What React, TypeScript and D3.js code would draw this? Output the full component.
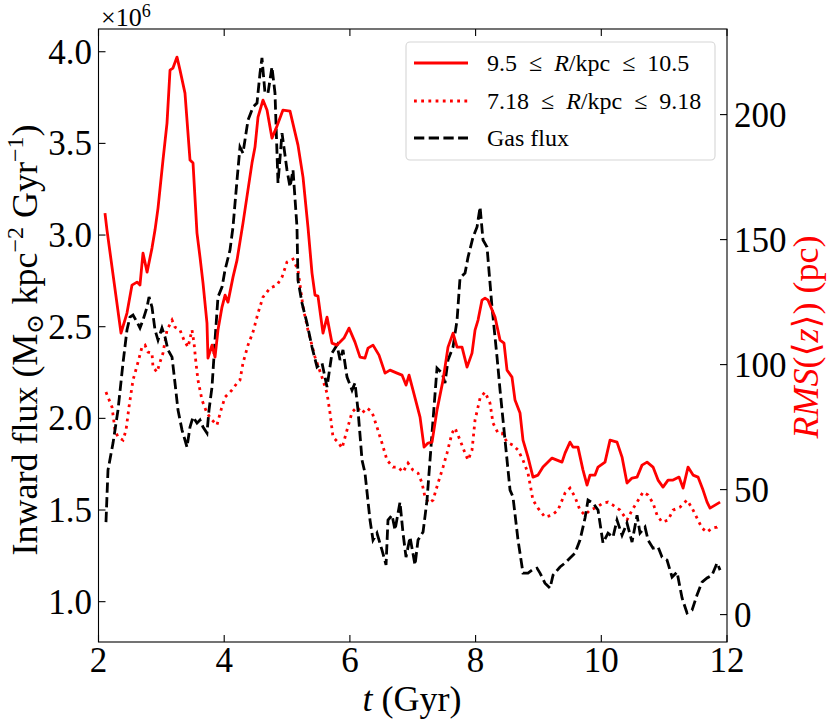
import React from 'react';
import * as d3 from 'd3';

// R = 9.5-10.5 kpc, RMS(<z>) in pc (right axis)
const tOuter = [2.103, 2.135, 2.358, 2.453, 2.533, 2.613, 2.66, 2.708, 2.773, 2.851, 2.899, 2.947, 3.026, 3.09, 3.138, 3.185, 3.249, 3.297, 3.376, 3.456, 3.504, 3.567, 3.615, 3.663, 3.726, 3.742, 3.806, 3.854, 3.901, 3.965, 4.014, 4.06, 4.14, 4.204, 4.299, 4.442, 4.49, 4.538, 4.617, 4.681, 4.76, 4.84, 4.935, 5.047, 5.174, 5.254, 5.333, 5.397, 5.445, 5.492, 5.572, 5.636, 5.715, 5.795, 5.906, 5.986, 6.081, 6.161, 6.24, 6.288, 6.368, 6.463, 6.559, 6.638, 6.75, 6.829, 6.893, 6.941, 7.004, 7.116, 7.18, 7.243, 7.307, 7.386, 7.482, 7.561, 7.641, 7.705, 7.784, 7.864, 7.943, 7.991, 8.039, 8.102, 8.15, 8.198, 8.309, 8.389, 8.452, 8.5, 8.579, 8.627, 8.707, 8.754, 8.834, 8.913, 8.993, 9.072, 9.152, 9.216, 9.295, 9.375, 9.423, 9.502, 9.55, 9.629, 9.709, 9.773, 9.82, 9.9, 9.948, 10.059, 10.139, 10.25, 10.33, 10.409, 10.489, 10.569, 10.648, 10.728, 10.823, 10.903, 10.982, 11.062, 11.142, 11.237, 11.301, 11.38, 11.46, 11.539, 11.619, 11.683, 11.73, 11.81, 11.89];
const rmsOuter = [160.6, 153.8, 112.6, 120.6, 131.8, 133.0, 131.8, 144.6, 137.0, 146.6, 153.8, 162.6, 181.8, 196.6, 217.8, 218.6, 223.0, 217.8, 208.6, 181.8, 180.6, 152.6, 143.0, 132.6, 116.6, 102.6, 107.8, 103.0, 113.8, 123.0, 127.8, 125.0, 135.0, 141.8, 156.6, 180.6, 187.0, 199.0, 205.8, 201.8, 190.6, 195.4, 201.8, 201.4, 187.8, 175.0, 155.0, 136.6, 127.8, 127.4, 112.6, 119.0, 108.6, 107.8, 110.6, 114.6, 109.0, 103.0, 102.6, 106.6, 107.8, 103.8, 96.6, 97.8, 96.6, 95.8, 91.8, 95.8, 89.8, 79.0, 67.0, 68.6, 69.0, 81.8, 93.8, 107.0, 112.6, 107.0, 107.0, 99.0, 104.6, 113.8, 117.8, 125.8, 126.6, 125.8, 119.0, 109.8, 108.6, 97.8, 95.0, 85.8, 80.6, 69.8, 63.0, 55.0, 55.8, 59.0, 61.0, 62.6, 61.8, 61.0, 64.6, 69.0, 67.0, 67.0, 57.8, 51.8, 55.8, 55.8, 59.0, 61.0, 69.8, 69.0, 63.0, 52.6, 54.6, 55.0, 59.8, 61.0, 59.0, 53.8, 51.0, 53.8, 53.8, 55.0, 50.6, 59.0, 55.8, 55.0, 49.8, 45.0, 42.6, 43.8, 45.0];

// R = 7.18-9.18 kpc, RMS(<z>) in pc (right axis)
const tInner = [2.119, 2.215, 2.263, 2.31, 2.39, 2.438, 2.485, 2.549, 2.629, 2.692, 2.74, 2.788, 2.851, 2.867, 2.931, 2.979, 3.026, 3.09, 3.17, 3.217, 3.297, 3.36, 3.424, 3.488, 3.52, 3.551, 3.583, 3.647, 3.726, 3.806, 3.885, 3.949, 4.013, 4.124, 4.204, 4.251, 4.299, 4.379, 4.458, 4.538, 4.617, 4.729, 4.84, 4.92, 4.999, 5.095, 5.174, 5.254, 5.333, 5.445, 5.556, 5.636, 5.684, 5.731, 5.811, 5.875, 5.954, 6.034, 6.113, 6.193, 6.272, 6.352, 6.431, 6.511, 6.59, 6.686, 6.765, 6.845, 6.925, 7.004, 7.084, 7.148, 7.195, 7.259, 7.323, 7.402, 7.482, 7.545, 7.625, 7.673, 7.752, 7.832, 7.88, 7.943, 7.991, 8.071, 8.15, 8.229, 8.277, 8.357, 8.42, 8.5, 8.595, 8.675, 8.754, 8.834, 8.913, 8.993, 9.104, 9.216, 9.311, 9.423, 9.502, 9.582, 9.661, 9.741, 9.82, 9.932, 10.027, 10.107, 10.186, 10.298, 10.409, 10.489, 10.569, 10.664, 10.744, 10.823, 10.887, 10.966, 11.062, 11.142, 11.253, 11.364, 11.444, 11.523, 11.603, 11.683, 11.762, 11.842, 11.89];
const rmsInner = [89.0, 83.0, 73.8, 71.0, 69.8, 73.8, 83.0, 93.8, 101.0, 107.0, 107.8, 105.0, 104.6, 99.0, 97.0, 101.0, 104.6, 113.8, 117.8, 115.0, 113.8, 109.8, 107.0, 113.8, 108.6, 100.6, 93.8, 85.8, 80.6, 77.8, 75.8, 81.8, 87.0, 89.8, 92.6, 93.8, 100.6, 107.8, 113.0, 120.6, 127.0, 130.6, 131.8, 135.0, 141.0, 142.2, 137.8, 123.0, 113.8, 103.0, 95.0, 88.6, 80.6, 71.0, 69.0, 66.6, 73.8, 81.0, 83.0, 80.6, 82.6, 81.0, 75.0, 68.6, 61.8, 59.0, 59.0, 57.0, 60.6, 57.8, 56.6, 52.6, 47.0, 44.6, 45.8, 52.6, 59.0, 64.6, 72.6, 74.6, 69.8, 64.6, 61.8, 65.8, 77.8, 86.6, 89.0, 84.6, 76.6, 72.6, 72.6, 69.0, 67.8, 65.8, 61.8, 56.6, 45.8, 42.6, 39.0, 39.8, 41.8, 48.6, 50.6, 47.0, 41.8, 39.8, 41.8, 43.0, 44.6, 45.0, 43.8, 41.8, 37.8, 41.8, 45.0, 49.0, 47.8, 44.6, 39.8, 37.0, 37.8, 41.8, 43.0, 45.8, 42.6, 38.6, 34.6, 33.0, 34.6, 35.0, 36.2];

// Gas flux, 10^6 Msun kpc^-2 Gyr^-1 (left axis)
const tGas = [2.119, 2.151, 2.231, 2.31, 2.39, 2.453, 2.501, 2.549, 2.613, 2.66, 2.708, 2.772, 2.804, 2.851, 2.899, 2.947, 3.01, 3.058, 3.106, 3.17, 3.217, 3.265, 3.329, 3.376, 3.408, 3.456, 3.504, 3.567, 3.615, 3.663, 3.726, 3.758, 3.806, 3.854, 3.901, 3.965, 4.013, 4.092, 4.14, 4.204, 4.251, 4.299, 4.379, 4.458, 4.522, 4.57, 4.601, 4.649, 4.697, 4.76, 4.808, 4.856, 4.92, 4.999, 5.047, 5.095, 5.158, 5.174, 5.238, 5.317, 5.397, 5.477, 5.556, 5.636, 5.715, 5.795, 5.843, 5.89, 5.954, 6.034, 6.081, 6.129, 6.193, 6.24, 6.32, 6.368, 6.431, 6.511, 6.575, 6.606, 6.67, 6.718, 6.797, 6.845, 6.893, 6.957, 7.036, 7.084, 7.164, 7.227, 7.307, 7.386, 7.466, 7.513, 7.561, 7.641, 7.705, 7.752, 7.832, 7.88, 7.959, 8.023, 8.071, 8.118, 8.182, 8.261, 8.341, 8.389, 8.468, 8.548, 8.595, 8.675, 8.754, 8.834, 8.897, 8.977, 9.025, 9.104, 9.184, 9.232, 9.343, 9.423, 9.502, 9.582, 9.661, 9.741, 9.789, 9.868, 9.948, 10.027, 10.107, 10.186, 10.25, 10.33, 10.409, 10.489, 10.569, 10.616, 10.696, 10.744, 10.823, 10.903, 10.966, 11.046, 11.126, 11.205, 11.285, 11.364, 11.444, 11.523, 11.603, 11.683, 11.762, 11.842, 11.89];
const gasFlux = [1.434, 1.718, 1.865, 2.045, 2.302, 2.482, 2.553, 2.564, 2.525, 2.493, 2.536, 2.607, 2.662, 2.607, 2.482, 2.427, 2.493, 2.444, 2.373, 2.334, 2.193, 2.045, 1.936, 1.882, 1.843, 1.953, 2.007, 1.974, 1.991, 1.953, 1.92, 2.045, 2.171, 2.427, 2.662, 2.716, 2.809, 2.918, 3.044, 3.3, 3.48, 3.447, 3.627, 3.698, 3.72, 3.884, 3.966, 3.775, 3.775, 3.917, 3.775, 3.284, 3.556, 3.355, 3.262, 3.355, 3.044, 2.754, 2.629, 2.52, 2.389, 2.28, 2.302, 2.171, 2.356, 2.4, 2.318, 2.373, 2.225, 2.154, 2.193, 2.045, 1.772, 1.702, 1.445, 1.336, 1.374, 1.281, 1.2, 1.445, 1.472, 1.391, 1.543, 1.374, 1.243, 1.352, 1.2, 1.336, 1.38, 1.554, 1.92, 2.274, 2.247, 2.193, 2.318, 2.389, 2.536, 2.765, 2.793, 2.88, 2.989, 3.044, 3.153, 2.973, 2.934, 2.607, 2.334, 2.154, 1.882, 1.609, 1.571, 1.336, 1.156, 1.156, 1.172, 1.183, 1.156, 1.101, 1.074, 1.145, 1.189, 1.211, 1.238, 1.265, 1.336, 1.456, 1.554, 1.538, 1.5, 1.32, 1.374, 1.352, 1.445, 1.363, 1.429, 1.325, 1.472, 1.374, 1.407, 1.336, 1.292, 1.298, 1.243, 1.227, 1.134, 1.161, 1.02, 0.938, 0.954, 1.036, 1.107, 1.129, 1.145, 1.211, 1.172];

const xTicks = [2, 4, 6, 8, 10, 12];
const leftTicks = [1.0, 1.5, 2.0, 2.5, 3.0, 3.5, 4.0];
const rightTicks = [0, 50, 100, 150, 200];

const W = 831;
const H = 727;
const plot = { left: 98.5, right: 727, top: 29, bottom: 642 };
const FONT = '"Liberation Serif", "DejaVu Serif", serif';

const App: React.FC = () => {
  const x = d3.scaleLinear().domain([2, 12]).range([plot.left, plot.right]);
  const yL = d3.scaleLinear().domain([0.78, 4.124]).range([plot.bottom, plot.top]);
  const yR = d3.scaleLinear().domain([-10.96, 234.24]).range([plot.bottom, plot.top]);

  const lineR = (ts: number[], vs: number[]) =>
    d3.line<number>().x((_, i) => x(ts[i])).y(v => yR(v))(vs) || '';
  const lineL = (ts: number[], vs: number[]) =>
    d3.line<number>().x((_, i) => x(ts[i])).y(v => yL(v))(vs) || '';

  const tickLen = 7;

  // legend rows
  const legend = [
    { dash: 'none', color: 'red', lo: '9.5', hi: '10.5' },
    { dash: '2.8,4.4', color: 'red', lo: '7.18', hi: '9.18' },
    { dash: '10.3,4.4', color: 'black', lo: '', hi: '' },
  ];
  const rowY = [63, 101, 138];

  return (
    <svg width={W} height={H} style={{ position: 'absolute', left: 0, top: 0, background: 'white' }} fontFamily={FONT}>
      <defs>
        <clipPath id="plotClip">
          <rect x={plot.left} y={plot.top} width={plot.right - plot.left} height={plot.bottom - plot.top} />
        </clipPath>
      </defs>

      <g clipPath="url(#plotClip)" fill="none" strokeWidth={2.8}>
        <path d={lineR(tInner, rmsInner)} stroke="red" strokeDasharray="2.8,4.4" />
        <path d={lineL(tGas, gasFlux)} stroke="black" strokeDasharray="10.3,4.4" />
        <path d={lineR(tOuter, rmsOuter)} stroke="red" strokeLinejoin="round" />
      </g>

      {/* frame */}
      <rect x={plot.left} y={plot.top} width={plot.right - plot.left} height={plot.bottom - plot.top}
        fill="none" stroke="black" strokeWidth={1.1} />

      {/* bottom / top ticks */}
      {xTicks.map(t => (
        <g key={'x' + t}>
          <line x1={x(t)} x2={x(t)} y1={plot.bottom} y2={plot.bottom - tickLen} stroke="black" strokeWidth={1.1} />
          <line x1={x(t)} x2={x(t)} y1={plot.top} y2={plot.top + tickLen} stroke="black" strokeWidth={1.1} />
          <text x={x(t)} y={672} fontSize={35} textAnchor="middle">{t}</text>
        </g>
      ))}

      {/* left ticks */}
      {leftTicks.map(v => (
        <g key={'l' + v}>
          <line x1={plot.left} x2={plot.left + tickLen} y1={yL(v)} y2={yL(v)} stroke="black" strokeWidth={1.1} />
          <text x={92} y={yL(v) + 12} fontSize={35} textAnchor="end">{v.toFixed(1)}</text>
        </g>
      ))}

      {/* right ticks */}
      {rightTicks.map(v => (
        <g key={'r' + v}>
          <line x1={plot.right} x2={plot.right - tickLen} y1={yR(v)} y2={yR(v)} stroke="black" strokeWidth={1.1} />
          <text x={734} y={yR(v) + 12} fontSize={35} textAnchor="start">{v}</text>
        </g>
      ))}

      {/* offset text */}
      <text x={101} y={26} fontSize={26}>
        ×10<tspan fontSize={18} dy={-9}>6</tspan>
      </text>

      {/* axis labels */}
      <text x={412} y={711} fontSize={36} textAnchor="middle">
        <tspan fontStyle="italic">t</tspan> (Gyr)
      </text>

      <text transform="translate(37,340) rotate(-90)" fontSize={36} textAnchor="middle">
        Inward flux (M<tspan fontSize={24} dy={6}>⊙</tspan>
        <tspan dy={-6}> kpc</tspan>
        <tspan fontSize={24} dy={-14}>−2</tspan>
        <tspan dy={14}> Gyr</tspan>
        <tspan fontSize={24} dy={-14}>−1</tspan>
        <tspan dy={14}>)</tspan>
      </text>

      <text transform="translate(818,337) rotate(-90)" fontSize={36} textAnchor="middle" fill="red">
        <tspan fontStyle="italic">RMS</tspan>(⟨<tspan fontStyle="italic">z</tspan>⟩) (pc)
      </text>

      {/* legend */}
      <rect x={406} y={42} width={309} height={118} rx={4} fill="white" fillOpacity={0.8} stroke="#d6d6d6" strokeWidth={1.1} />
      {legend.map((d, i) => (
        <g key={'lg' + i}>
          <line x1={414} x2={468} y1={rowY[i]} y2={rowY[i]} stroke={d.color} strokeWidth={2.8} strokeDasharray={d.dash} />
          {i < 2 ? (
            <text x={487} y={rowY[i] + 8} fontSize={24}>
              {d.lo}<tspan dx={12}>≤</tspan><tspan dx={12} fontStyle="italic">R</tspan>/kpc<tspan dx={12}>≤</tspan><tspan dx={12}>{d.hi}</tspan>
            </text>
          ) : (
            <text x={487} y={rowY[i] + 8} fontSize={24}>Gas flux</text>
          )}
        </g>
      ))}
    </svg>
  );
};

export default App;
